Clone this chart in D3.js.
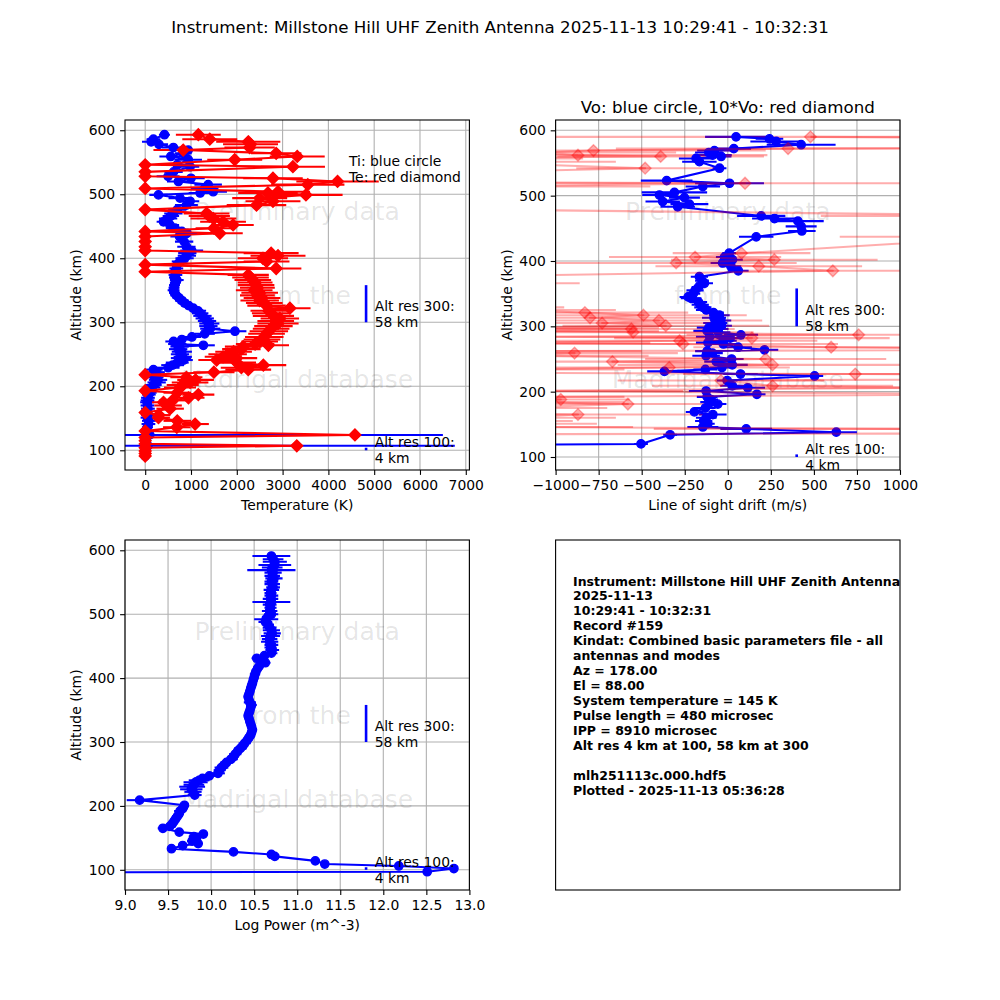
<!DOCTYPE html>
<html><head><meta charset="utf-8">
<script src="https://cdn.jsdelivr.net/npm/d3@7"></script>
<style>body{margin:0;background:#fff} text{font-family:"DejaVu Sans",sans-serif}</style>
</head><body><svg id="c" width="1000" height="1000" xmlns="http://www.w3.org/2000/svg"></svg>
<script>
// ---------------- DATA ----------------
const suptitle = "Instrument: Millstone Hill UHF Zenith Antenna 2025-11-13 10:29:41 - 10:32:31";
const driftTitle = "Vo: blue circle, 10*Vo: red diamond";

const tempAlt = [593,586,582,578,573,569,564,559,554,546,
 543,535,528,525,520,515,509,504,502,499,
 494,489,483,476,470,466,462,457,452,447,
 442,439,434,426,418,412,408,404,400,395,
 390,384,379,374,370,366,362,358,354,350,
 346,342,338,334,330,326,322,318,314,310,
 306,302,298,294,290,286,282,277,273,270,
 266,264,262,258,254,250,246,244,241,237,
 233,229,226,222,218,214,210,206,202,198,
 193,190,187,182,178,175,170,165,159,155,
 151,146,141,136,130,124,120,115,110,107,
 104,99,95,91];
const ti = [420,180,130,300,615,940,830,560,940,700,
 980,620,500,1000,725,1375,1300,1485,1200,290,
 760,980,900,700,615,560,500,400,540,650,
 800,910,750,850,900,1015,920,910,860,760,
 700,680,650,660,640,690,660,640,630,620,
 640,680,740,800,860,950,1050,1150,1200,1250,
 1300,1350,1400,1380,1420,1960,1300,1020,800,620,
 700,1270,750,720,800,760,820,780,840,700,
 600,500,180,250,230,200,280,250,180,150,
 120,100,80,60,50,40,50,60,40,60,
 50,80,70,50,30,100,20,20,20,60,
 10,10,0,0];
const tiErr = [120,150,200,200,250,200,180,250,300,250,
 200,200,250,300,250,300,300,300,250,200,
 250,200,250,200,200,180,200,150,200,200,
 200,250,200,200,200,250,200,200,200,180,
 150,150,150,150,120,150,120,120,120,130,
 120,130,140,150,150,160,170,180,180,200,
 200,200,220,200,220,250,220,200,200,180,
 200,250,200,200,220,200,200,220,200,250,
 250,250,200,180,200,200,200,200,180,180,
 150,150,150,150,150,150,150,150,120,150,
 150,150,150,120,100,6400,100,100,100,6700,
 80,80,60,60];
const te = [1160,1410,2250,2300,2280,830,2860,3320,1955,0,
 3225,0,0,2790,4200,3550,0,2900,2680,3510,
 2500,2790,2430,0,1340,1400,1490,1700,1920,1500,
 0,1630,0,0,0,0,2750,2900,2570,2650,
 0,2860,0,2250,2300,2350,2400,2420,2450,2380,
 2500,2450,2550,2500,2600,2650,3160,2700,2750,2800,
 2940,2850,2900,2800,2750,2700,2650,2600,2550,2500,
 2400,2690,2140,2100,1930,1800,1700,1995,1560,2000,
 2580,2100,2250,1500,0,900,1100,980,820,760,
 0,700,1160,945,600,400,500,545,0,300,
 290,700,1090,690,0,4580,0,0,0,3310,
 0,0,0,0];
const teErr = [490,600,700,600,550,650,550,600,600,0,
 700,0,0,650,900,800,0,700,650,800,
 600,600,650,0,500,450,500,500,450,400,
 0,500,0,0,0,0,600,600,550,500,
 0,550,0,450,400,400,380,400,380,400,
 400,380,400,420,400,420,450,400,420,450,
 420,400,450,420,400,420,400,420,400,400,
 420,450,400,420,400,420,400,450,400,420,
 500,450,500,450,0,350,400,400,350,350,
 0,300,350,350,300,300,300,300,0,250,
 250,300,300,300,0,100,0,0,0,100,
 0,0,0,0];

const driftAlt = [590,587,583,578,572,569,566,562,560,557,
 552,542,523,519,514,505,501,497,491,487,
 483,469,465,461,453,446,437,412,406,402,
 397,392,385,376,370,366,360,355,350,345,
 343,337,333,329,325,321,317,313,309,305,
 301,298,296,293,291,287,284,282,278,275,
 273,268,264,262,259,255,250,246,241,237,
 234,231,227,224,217,209,206,201,196,192,
 188,184,181,175,169,165,160,155,151,146,
 143,138,134,120,118];
const vo = [48,242,281,426,35,-78,-110,-87,-39,-184,
 -165,-48,-355,10,-145,-310,-397,-252,-378,-223,
 -291,194,271,407,426,430,165,8,-19,27,
 -30,18,61,-165,-150,-136,-170,-190,-200,-230,
 -213,-170,-160,-145,-125,-83,-49,-80,-40,-73,
 -36,-110,-56,-120,-55,76,-105,14,-28,-115,
 -26,60,213,-120,-89,-126,22,-67,26,-34,
 -130,-368,74,504,-4,26,116,-126,169,-120,
 -97,-110,-58,-130,-194,-87,-125,-140,-116,-145,
 107,630,-335,-504,-1800];
const voErr = [180,80,150,200,100,100,80,110,60,100,
 100,40,150,200,100,190,100,90,100,110,
 100,140,130,150,90,80,100,40,50,60,
 70,60,60,50,40,50,40,50,40,50,
 60,50,50,50,60,60,60,70,60,70,
 60,70,60,80,70,100,80,80,80,70,
 90,80,80,70,60,80,70,70,90,70,
 70,100,100,50,60,70,100,100,50,60,
 40,50,50,60,50,80,60,50,40,90,
 150,120,40,40,100];

const powAlt = [591,586,582,577,573,569,565,560,556,551,
 547,542,538,533,529,524,519,515,510,505,
 500,496,492,488,484,479,475,470,466,461,
 457,452,448,444,439,435,431,427,424,419,
 415,410,406,401,397,392,388,384,379,375,
 371,366,362,358,354,349,345,341,337,332,
 328,324,319,315,311,307,303,298,294,290,
 286,281,277,273,268,264,260,256,251,247,
 243,240,237,233,230,226,222,217,209,201,
 196,192,188,184,180,176,172,168,165,159,
 156,152,149,145,141,138,133,128,124,121,
 114,109,106,102,97,96];
const logPow = [10.70,10.72,10.74,10.74,10.71,10.70,10.72,10.71,10.73,10.70,
 10.71,10.72,10.70,10.69,10.70,10.69,10.70,10.68,10.69,10.68,
 10.70,10.66,10.64,10.63,10.66,10.68,10.70,10.71,10.69,10.68,
 10.68,10.70,10.69,10.71,10.70,10.62,10.53,10.60,10.63,10.56,
 10.54,10.52,10.51,10.50,10.49,10.48,10.47,10.46,10.45,10.44,
 10.43,10.44,10.45,10.47,10.46,10.45,10.44,10.43,10.44,10.45,
 10.46,10.47,10.48,10.47,10.46,10.44,10.42,10.39,10.37,10.34,
 10.31,10.28,10.26,10.23,10.18,10.15,10.12,10.10,10.08,9.98,
 9.90,9.86,9.82,9.80,9.78,9.77,9.79,9.81,9.17,9.69,
 9.67,9.64,9.63,9.61,9.59,9.57,9.55,9.52,9.44,9.63,
 9.91,9.80,9.83,9.78,9.85,9.67,9.54,10.26,10.70,10.74,
 11.21,11.32,12.18,12.82,12.51,8.20];
const logPowErr = [0.22,0.12,0.14,0.19,0.12,0.28,0.10,0.09,0.10,0.08,
 0.09,0.08,0.09,0.07,0.08,0.09,0.22,0.08,0.07,0.09,
 0.08,0.07,0.14,0.08,0.07,0.08,0.10,0.10,0.11,0.09,
 0.10,0.08,0.07,0.08,0.07,0.05,0.06,0.05,0.06,0.05,
 0.04,0.05,0.06,0.05,0.04,0.05,0.04,0.04,0.05,0.04,
 0.05,0.04,0.07,0.06,0.05,0.04,0.05,0.04,0.05,0.05,
 0.04,0.04,0.05,0.04,0.05,0.05,0.06,0.07,0.06,0.07,
 0.06,0.07,0.06,0.08,0.07,0.06,0.08,0.07,0.08,0.09,
 0.10,0.12,0.14,0.12,0.15,0.13,0.10,0.08,0.15,0.05,
 0.06,0.07,0.05,0.06,0.05,0.06,0.05,0.07,0.06,0.04,
 0.05,0.06,0.05,0.06,0.04,0.05,0.03,0.02,0.03,0.02,
 0.02,0.02,0.02,0.02,0.02,0.02];

const altTicks = [100,200,300,400,500,600];
const tempTicks = [0,1000,2000,3000,4000,5000,6000,7000];
const driftTicks = [-1000,-750,-500,-250,0,250,500,750,1000];
const powTicks = [9.0,9.5,10.0,10.5,11.0,11.5,12.0,12.5,13.0];
const watermark = ["Preliminary data","from the","Madrigal database"];
const altRes = [{alt:300, res:58, label:["Alt res 300:","58 km"]},{alt:100, res:4, label:["Alt res 100:","4 km"]}];
const infoLines = ["Instrument: Millstone Hill UHF Zenith Antenna","2025-11-13","10:29:41 - 10:32:31","Record #159",
 "Kindat: Combined basic parameters file - all","antennas and modes","Az = 178.00","El = 88.00",
 "System temperature = 145 K","Pulse length = 480 microsec","IPP = 8910 microsec",
 "Alt res 4 km at 100, 58 km at 300","","mlh251113c.000.hdf5","Plotted - 2025-11-13 05:36:28"];

// ---------------- DRAW ----------------
const svg = d3.select('#c');
const defs = svg.append('defs');
const FS = 13.9, LW = 2.08;

svg.append('text').attr('x',500).attr('y',33).attr('text-anchor','middle')
  .attr('font-size',16.7).text(suptitle);

function makePanel(o){
  const x = d3.scaleLinear().domain(o.xd).range([o.left,o.left+o.w]);
  const y = d3.scaleLinear().domain(o.yd).range([o.top+o.h,o.top]);
  defs.append('clipPath').attr('id',o.id).append('rect')
    .attr('x',o.left).attr('y',o.top).attr('width',o.w).attr('height',o.h);
  const g = svg.append('g');
  const grid = g.append('g').attr('stroke','#b0b0b0').attr('stroke-width',1.1);
  o.xt.forEach(t=>grid.append('line').attr('x1',x(t)).attr('x2',x(t)).attr('y1',o.top).attr('y2',o.top+o.h));
  altTicks.forEach(t=>grid.append('line').attr('x1',o.left).attr('x2',o.left+o.w).attr('y1',y(t)).attr('y2',y(t)));
  const wm = g.append('g').attr('font-size',25).attr('fill','#000').attr('fill-opacity',0.11).attr('text-anchor','middle');
  [0.26,0.5,0.74].forEach((f,i)=>wm.append('text').attr('x',o.left+o.w/2).attr('y',o.top+f*o.h+9).text(watermark[i]));
  const bars = g.append('g').attr('clip-path',`url(#${o.id})`);
  const lines = g.append('g').attr('clip-path',`url(#${o.id})`);
  const over = g.append('g');
  altRes.forEach(a=>{
    const bx = o.left+0.7*o.w, tx = o.left+0.725*o.w;
    over.append('line').attr('x1',bx).attr('x2',bx).attr('y1',y(a.alt)).attr('y2',y(a.alt+a.res))
      .attr('stroke','#0000ff').attr('stroke-width',2.6);
    const base = y(a.alt) + (a.alt===300?5:13);
    over.append('text').attr('x',tx).attr('y',base-16).attr('font-size',FS).text(a.label[0]);
    over.append('text').attr('x',tx).attr('y',base).attr('font-size',FS).text(a.label[1]);
  });
  over.append('rect').attr('x',o.left).attr('y',o.top).attr('width',o.w).attr('height',o.h)
    .attr('fill','none').attr('stroke','#000').attr('stroke-width',1.1);
  const xa = over.append('g').attr('transform',`translate(0,${o.top+o.h})`)
    .call(d3.axisBottom(x).tickValues(o.xt).tickFormat(o.fmt).tickSize(4.9).tickPadding(4.9));
  const ya = over.append('g').attr('transform',`translate(${o.left},0)`)
    .call(d3.axisLeft(y).tickValues(altTicks).tickFormat(d3.format('d')).tickSize(4.9).tickPadding(4.9));
  [xa,ya].forEach(a=>{a.select('.domain').remove();
    a.attr('font-size',FS).attr('font-family','DejaVu Sans');
    a.selectAll('line').attr('stroke','#000').attr('stroke-width',1.1);
    a.selectAll('text').attr('fill','#000');});
  over.append('text').attr('x',o.left+o.w/2).attr('y',o.top+o.h+40).attr('text-anchor','middle')
    .attr('font-size',FS).text(o.xlabel);
  over.append('text').attr('transform',`translate(${o.left-44},${o.top+o.h/2}) rotate(-90)`)
    .attr('text-anchor','middle').attr('font-size',FS).text('Altitude (km)');
  return {x,y,bars,lines,over,o};
}

function series(p, alts, vals, errs, color, marker, alpha){
  const {x,y} = p;
  const pts = alts.map((a,i)=>({a, v:vals[i], e:errs[i]}));
  pts.filter(d=>d.e>0).forEach(d=>{
    p.bars.append('line').attr('x1',x(d.v-d.e)).attr('x2',x(d.v+d.e)).attr('y1',y(d.a)).attr('y2',y(d.a))
      .attr('stroke',color).attr('stroke-width',LW).attr('stroke-opacity',alpha);
  });
  const lg = p.lines.append('g');
  lg.append('path').attr('d',d3.line().x(d=>x(d.v)).y(d=>y(d.a))(pts))
    .attr('fill','none').attr('stroke',color).attr('stroke-width',LW).attr('stroke-opacity',alpha)
    .attr('stroke-linejoin','round');
  pts.forEach(d=>{
    const cx = x(d.v), cy = y(d.a);
    let m;
    if(marker==='o') m = lg.append('circle').attr('cx',cx).attr('cy',cy).attr('r',4.17);
    else { const s=5.9; m = lg.append('path').attr('d',`M${cx},${cy-s}L${cx+s},${cy}L${cx},${cy+s}L${cx-s},${cy}Z`); }
    m.attr('fill',color).attr('stroke',color).attr('stroke-width',1.39)
     .attr('fill-opacity',alpha).attr('stroke-opacity',alpha);
  });
}

// Top-left: temperatures
const pT = makePanel({id:'cT',left:125,top:120,w:344.4,h:350,xd:[-441,7079],yd:[69.2,616],
  xt:tempTicks,fmt:d3.format('d'),xlabel:'Temperature (K)'});
series(pT, tempAlt, ti, tiErr, '#0000ff','o',1);
series(pT, tempAlt, te, teErr, '#ff0000','D',1);
pT.over.append('text').attr('x',349).attr('y',166).attr('font-size',FS).text('Ti: blue circle');
pT.over.append('text').attr('x',349).attr('y',182).attr('font-size',FS).text('Te: red diamond');

// Top-right: drift
const pV = makePanel({id:'cV',left:555.6,top:120,w:344.4,h:350,xd:[-1000,1000],yd:[80.1,615.8],
  xt:driftTicks,fmt:d3.format('d'),xlabel:'Line of sight drift (m/s)'});
series(pV, driftAlt, vo, voErr, '#0000ff','o',1);
series(pV, driftAlt, vo.map(v=>10*v), voErr.map(e=>10*e), '#ff0000','D',0.32);
pV.over.append('text').attr('x',555.6+344.4/2).attr('y',113).attr('text-anchor','middle')
  .attr('font-size',16.7).text(driftTitle);

// Bottom-left: power
const pP = makePanel({id:'cP',left:125,top:540,w:344.4,h:350,xd:[9,13],yd:[68.4,616.1],
  xt:powTicks,fmt:d3.format('.1f'),xlabel:'Log Power (m^-3)'});
series(pP, powAlt, logPow, logPowErr, '#0000ff','o',1);

// Bottom-right: info box
svg.append('rect').attr('x',555.6).attr('y',540).attr('width',344.4).attr('height',350)
  .attr('fill','none').attr('stroke','#000').attr('stroke-width',1.1);
const info = svg.append('g').attr('font-size',12.5).attr('font-weight','bold');
infoLines.forEach((t,i)=>info.append('text').attr('x',573).attr('y',585.5+i*14.95).text(t));
</script></body></html>
